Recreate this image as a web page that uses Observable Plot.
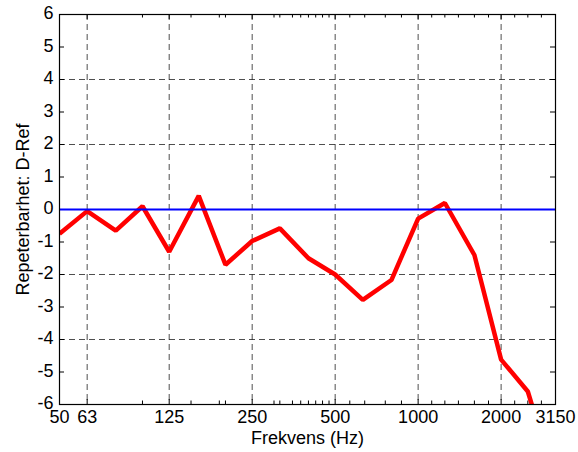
<!DOCTYPE html>
<html>
<head>
<meta charset="utf-8">
<script src="https://cdn.jsdelivr.net/npm/d3@7"></script>
<script src="https://cdn.jsdelivr.net/npm/@observablehq/plot@0.6"></script>
<style>
  html, body { margin: 0; padding: 0; background: #fff; }
</style>
</head>
<body>
<div id="chart"></div>
<script>
// Third-octave band centre frequencies (Hz)
const bands = [50, 63, 80, 100, 125, 160, 200, 250, 315, 400, 500, 630, 800, 1000, 1250, 1600, 2000, 2500, 3150];
// Repeatability, difference D minus reference (dB)
const dRef = [-0.75, -0.05, -0.65, 0.1, -1.3, 0.42, -1.7, -0.97, -0.58, -1.5, -2.0, -2.78, -2.17, -0.28, 0.2, -1.4, -4.62, -5.6, -8.4];
// Reference level
const refLevel = [0];

// Axis ticks
const xTickLabels = [50, 63, 125, 250, 500, 1000, 2000, 3150];
const xGrid = [63, 125, 250, 500, 1000, 2000];
const xMinor = [100, 150, 190, 200, 300, 315, 350, 375, 400, 425, 450, 475, 565, 640, 760, 870, 1120, 1250, 1400, 1600, 1800, 2240, 2500, 2800];
const yTicks = d3.range(-6, 7);
const yGrid = [-4, -2, 2, 4];

const series = bands.map((f, i) => ({f, v: dRef[i]}));

const W = 578, H = 452;
const mt = 14, mb = 48, ml = 59, mr = 23;
const fw = W - ml - mr, fh = H - mt - mb;
const tick = 5, minorTick = 3.5;
const fs = 18;
const font = "'Liberation Sans', Arial, Helvetica, sans-serif";

const chart = Plot.plot({
  width: W,
  height: H,
  marginTop: mt,
  marginBottom: mb,
  marginLeft: ml,
  marginRight: mr,
  style: {fontFamily: font, fontSize: fs + "px", background: "#fff", color: "#000", overflow: "visible"},
  x: {type: "log", domain: [50, 3150], axis: null},
  y: {domain: [-6, 6], axis: null},
  marks: [
    // dashed grid
    Plot.ruleX(xGrid, {stroke: "#222", strokeWidth: 0.8, strokeDasharray: "6,4"}),
    Plot.ruleY(yGrid, {stroke: "#222", strokeWidth: 0.8, strokeDasharray: "6,4"}),
    // inward ticks on all four sides
    Plot.ruleX(xGrid, {stroke: "#000", insetTop: fh - tick}),
    Plot.ruleX(xGrid, {stroke: "#000", insetBottom: fh - tick}),
    Plot.ruleX(xMinor, {stroke: "#000", insetTop: fh - minorTick}),
    Plot.ruleX(xMinor, {stroke: "#000", insetBottom: fh - minorTick}),
    Plot.ruleY(yTicks, {stroke: "#000", insetRight: fw - tick}),
    Plot.ruleY(yTicks, {stroke: "#000", insetLeft: fw - tick}),
    // data
    Plot.line(series, {x: "f", y: "v", stroke: "#ff0000", strokeWidth: 4.5, strokeLinejoin: "miter", strokeLinecap: "butt", clip: true}),
    Plot.ruleY(refLevel, {stroke: "#0000ff", strokeWidth: 2.2}),
    Plot.frame({stroke: "#000", strokeWidth: 1.2}),
    // tick labels
    Plot.text(xTickLabels, {x: d => d, text: d => String(d), frameAnchor: "bottom", lineAnchor: "top", dy: 6, fontSize: fs}),
    Plot.text(yTicks, {y: d => d, text: d => String(d), frameAnchor: "left", textAnchor: "end", dx: -6, dy: -1, fontSize: fs}),
    // axis titles
    Plot.text(["Frekvens (Hz)"], {text: d => d, frameAnchor: "bottom", dy: 39, fontSize: fs}),
    Plot.text(["Repeterbarhet: D-Ref"], {text: d => d, frameAnchor: "left", textAnchor: "middle", dx: -36, rotate: -90, fontSize: fs})
  ]
});

document.getElementById("chart").appendChild(chart);
</script>
</body>
</html>
